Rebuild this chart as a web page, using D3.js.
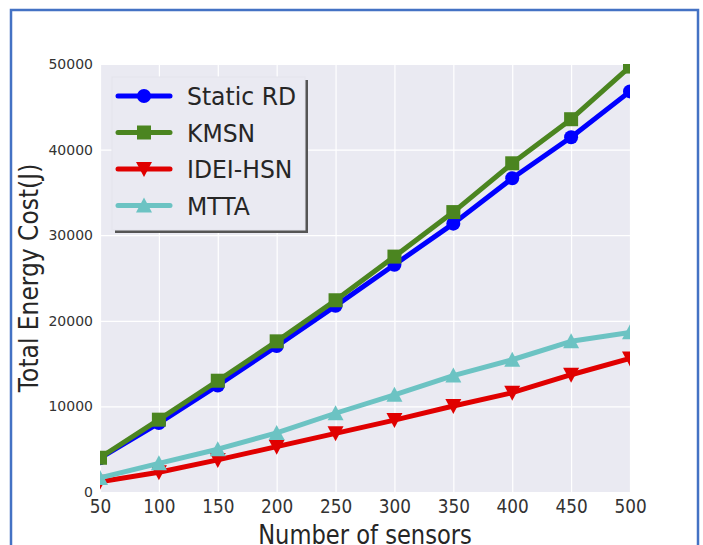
<!DOCTYPE html>
<html>
<head>
<meta charset="utf-8">
<script src="https://cdn.jsdelivr.net/npm/d3@7"></script>
<style>
  body { margin: 0; background: #fff; }
  svg text { font-family: "DejaVu Sans", sans-serif; }
</style>
</head>
<body>
<svg id="chart" width="703" height="545"></svg>
<script>
// data
const sensors = [50, 100, 150, 200, 250, 300, 350, 400, 450, 500];
const staticRD = [3950, 8050, 12450, 17050, 21750, 26550, 31350, 36650, 41450, 46800];
const kmsn = [4000, 8450, 13000, 17600, 22400, 27500, 32700, 38400, 43550, 49700];
const ideiHsn = [1200, 2300, 3750, 5300, 6850, 8400, 10050, 11600, 13700, 15600];
const mtta = [1650, 3350, 5000, 6900, 9200, 11350, 13600, 15450, 17600, 18650];
const yTicks = [0, 10000, 20000, 30000, 40000, 50000];

const series = [
    {name: "Static RD", values: staticRD, color: "#0000ff", marker: "circle"},
    {name: "KMSN", values: kmsn, color: "#4b8520", marker: "square"},
    {name: "IDEI-HSN", values: ideiHsn, color: "#e00000", marker: "tridown"},
    {name: "MTTA", values: mtta, color: "#6cc3c3", marker: "triup"}
];

const svg = d3.select("#chart");
const plot = {left: 100, right: 630, top: 64, bottom: 492};
// the original picture looks squeezed sideways, so text is narrowed a bit
const squeeze = 0.89;

// blue frame round the figure
svg.append("rect")
    .attr("x", 11).attr("y", 10)
    .attr("width", 687).attr("height", 560)
    .attr("fill", "none")
    .attr("stroke", "#4472c4")
    .attr("stroke-width", 2.5);

const x = d3.scaleLinear().domain([50, 500]).range([plot.left, plot.right]);
const y = d3.scaleLinear().domain([0, 50000]).range([plot.bottom, plot.top]);

// seaborn style background
svg.append("rect")
    .attr("x", plot.left).attr("y", plot.top)
    .attr("width", plot.right - plot.left).attr("height", plot.bottom - plot.top)
    .attr("fill", "#eaeaf2");

svg.append("defs").append("clipPath").attr("id", "plotclip")
    .append("rect")
    .attr("x", plot.left).attr("y", plot.top)
    .attr("width", plot.right - plot.left).attr("height", plot.bottom - plot.top);

// grid lines
svg.append("g")
    .attr("transform", `translate(0,${plot.bottom})`)
    .call(d3.axisBottom(x).tickValues(sensors).tickSize(-(plot.bottom - plot.top)).tickFormat(""))
    .call(g => g.select(".domain").remove())
    .call(g => g.selectAll("line").attr("stroke", "#fff").attr("stroke-width", 1.2));
svg.append("g")
    .attr("transform", `translate(${plot.left},0)`)
    .call(d3.axisLeft(y).tickValues(yTicks).tickSize(-(plot.right - plot.left)).tickFormat(""))
    .call(g => g.select(".domain").remove())
    .call(g => g.selectAll("line").attr("stroke", "#fff").attr("stroke-width", 1.2));

// tick labels
svg.append("g")
    .attr("transform", `translate(0,${plot.bottom})`)
    .call(d3.axisBottom(x).tickValues(sensors).tickSize(0).tickPadding(8))
    .call(g => g.select(".domain").remove())
    .call(g => g.selectAll("text")
        .attr("font-size", "19px").attr("fill", "#333")
        .attr("transform", `scale(${squeeze},1)`)
        .style("font-family", "DejaVu Sans"));
svg.append("g")
    .attr("transform", `translate(${plot.left},0)`)
    .call(d3.axisLeft(y).tickValues(yTicks).tickSize(0).tickPadding(7).tickFormat(d3.format("d")))
    .call(g => g.select(".domain").remove())
    .call(g => g.selectAll("text")
        .attr("font-size", "14px").attr("fill", "#333")
        .style("font-family", "DejaVu Sans"));

// axis titles
svg.append("text")
    .attr("transform", `translate(${(plot.left + plot.right) / 2},544) scale(0.87,1)`)
    .attr("text-anchor", "middle")
    .attr("font-size", "26px").attr("fill", "#262626")
    .text("Number of sensors");
svg.append("text")
    .attr("transform", `translate(38,${(plot.top + plot.bottom) / 2}) rotate(-90) scale(0.9,1)`)
    .attr("text-anchor", "middle")
    .attr("font-size", "26px").attr("fill", "#262626")
    .text("Total Energy Cost(J)");

function drawMarker(sel, kind, color) {
    if (kind === "circle") {
        sel.append("circle").attr("r", 7).attr("fill", color);
    } else if (kind === "square") {
        sel.append("rect").attr("x", -7).attr("y", -7).attr("width", 14).attr("height", 14).attr("fill", color);
    } else if (kind === "tridown") {
        sel.append("path").attr("d", "M-8,-7L8,-7L0,8Z").attr("fill", color);
    } else {
        sel.append("path").attr("d", "M-8,7L8,7L0,-8Z").attr("fill", color);
    }
}

const line = d3.line()
    .x((d, i) => x(sensors[i]))
    .y(d => y(d));

const lines = svg.append("g").attr("clip-path", "url(#plotclip)");
series.forEach(s => {
    const g = lines.append("g");
    g.append("path")
        .attr("d", line(s.values))
        .attr("fill", "none")
        .attr("stroke", s.color)
        .attr("stroke-width", 5)
        .attr("stroke-linejoin", "round");
    g.selectAll("g.mk")
        .data(s.values)
        .join("g")
        .attr("class", "mk")
        .attr("transform", (d, i) => `translate(${x(sensors[i])},${y(d)})`)
        .each(function() { drawMarker(d3.select(this), s.marker, s.color); });
});

// legend with shadow
const leg = {x: 112, y: 77, w: 193, h: 153};
svg.append("rect")
    .attr("x", leg.x + 3).attr("y", leg.y + 3)
    .attr("width", leg.w).attr("height", leg.h)
    .attr("fill", "#555");
svg.append("rect")
    .attr("x", leg.x).attr("y", leg.y)
    .attr("width", leg.w).attr("height", leg.h)
    .attr("fill", "#eaeaf2")
    .attr("stroke", "#e4e4ec");

series.forEach((s, i) => {
    const ly = 96 + i * 36.5;
    const g = svg.append("g");
    g.append("line")
        .attr("x1", 118).attr("x2", 170)
        .attr("y1", ly).attr("y2", ly)
        .attr("stroke", s.color).attr("stroke-width", 5)
        .attr("stroke-linecap", "round");
    const m = g.append("g").attr("transform", `translate(144,${ly})`);
    drawMarker(m, s.marker, s.color);
    g.append("text")
        .attr("transform", `translate(187,${ly}) scale(0.94,1)`)
        .attr("dy", "0.36em")
        .attr("font-size", "25px").attr("fill", "#262626")
        .text(s.name);
});
</script>
</body>
</html>
